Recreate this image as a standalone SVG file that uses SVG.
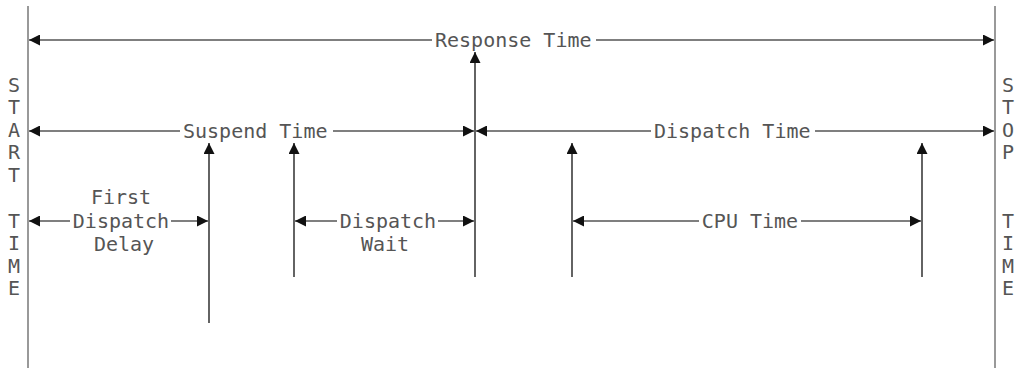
<svg xmlns="http://www.w3.org/2000/svg" width="1019" height="370" viewBox="0 0 1019 370">
<style>
text{font-family:"DejaVu Sans Mono","Liberation Mono",monospace;font-size:20px;fill:#555}
.c{text-anchor:middle}
.bound{stroke:#777;stroke-width:1.5;fill:none}
.h{stroke:#555;stroke-width:1.4;fill:none}
.v{stroke:#222;stroke-width:1.4;fill:none}
</style>
<defs>
<marker id="ah" markerUnits="userSpaceOnUse" markerWidth="11" markerHeight="11" viewBox="0 0 10 10" refX="10" refY="5" orient="auto-start-reverse">
<path d="M0,0 L10,5 L0,10 Z" fill="#111"/>
</marker>
</defs>
<rect width="1019" height="370" fill="#fff"/>
<g id="start">
<line class="bound" x1="28" y1="6" x2="28" y2="368"/>
<text class="c" x="14" y="92">S</text>
<text class="c" x="14" y="114">T</text>
<text class="c" x="14" y="137">A</text>
<text class="c" x="14" y="159">R</text>
<text class="c" x="14" y="182">T</text>
<text class="c" x="14" y="228">T</text>
<text class="c" x="14" y="250">I</text>
<text class="c" x="14" y="273">M</text>
<text class="c" x="14" y="295">E</text>
</g>
<g id="stop">
<line class="bound" x1="995" y1="6" x2="995" y2="368"/>
<text class="c" x="1008" y="92">S</text>
<text class="c" x="1008" y="114">T</text>
<text class="c" x="1008" y="137">O</text>
<text class="c" x="1008" y="159">P</text>
<text class="c" x="1008" y="228">T</text>
<text class="c" x="1008" y="250">I</text>
<text class="c" x="1008" y="273">M</text>
<text class="c" x="1008" y="295">E</text>
</g>
<g id="connectors">
<path class="h" d="M432,40 H29" marker-end="url(#ah)"/>
<path class="h" d="M596,40 H994" marker-end="url(#ah)"/>
<path class="h" d="M180,131 H29" marker-end="url(#ah)"/>
<path class="h" d="M333,131 H474" marker-end="url(#ah)"/>
<path class="h" d="M651,131 H476" marker-end="url(#ah)"/>
<path class="h" d="M815,131 H994" marker-end="url(#ah)"/>
<path class="h" d="M70,221 H29" marker-end="url(#ah)"/>
<path class="h" d="M171,221 H208" marker-end="url(#ah)"/>
<path class="h" d="M337,221 H295" marker-end="url(#ah)"/>
<path class="h" d="M438,221 H474" marker-end="url(#ah)"/>
<path class="h" d="M699,221 H573" marker-end="url(#ah)"/>
<path class="h" d="M801,221 H921" marker-end="url(#ah)"/>
<path class="v" d="M475,277 V52" marker-end="url(#ah)"/>
<path class="v" d="M209,323 V143" marker-end="url(#ah)"/>
<path class="v" d="M294,277 V143" marker-end="url(#ah)"/>
<path class="v" d="M572,277 V143" marker-end="url(#ah)"/>
<path class="v" d="M922,277 V143" marker-end="url(#ah)"/>
</g>
<g id="response-time"><text x="435" y="47">Response Time</text></g>
<g id="suspend-time"><text x="183" y="138">Suspend Time</text></g>
<g id="dispatch-time"><text x="654" y="138">Dispatch Time</text></g>
<g id="first-dispatch-delay">
<text class="c" x="121" y="204">First</text>
<text class="c" x="121" y="228">Dispatch</text>
<text class="c" x="124" y="251">Delay</text>
</g>
<g id="dispatch-wait">
<text class="c" x="388" y="228">Dispatch</text>
<text class="c" x="385" y="251">Wait</text>
</g>
<g id="cpu-time"><text class="c" x="750" y="228">CPU Time</text></g>
</svg>
